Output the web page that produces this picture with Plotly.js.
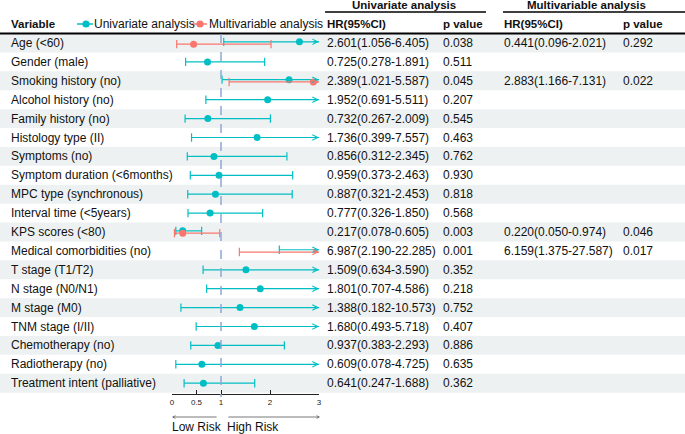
<!DOCTYPE html>
<html>
<head>
<meta charset="utf-8">
<script src="https://cdn.plot.ly/plotly-3.0.1.min.js"></script>
<style>html,body{margin:0;padding:0;background:#fff;}#chart{width:685px;height:434px;}</style>
</head>
<body>
<div id="chart"></div>
<script>
// ---------- data ----------
const variables = ["Age (<60)","Gender (male)","Smoking history (no)","Alcohol history (no)","Family history (no)","Histology type (II)","Symptoms (no)","Symptom duration (<6months)","MPC type (synchronous)","Interval time (<5years)","KPS scores (<80)","Medical comorbidities (no)","T stage (T1/T2)","N stage (N0/N1)","M stage (M0)","TNM stage (I/II)","Chemotherapy (no)","Radiotherapy (no)","Treatment intent (palliative)"];
const uniHR = [2.601,0.725,2.389,1.952,0.732,1.736,0.856,0.959,0.887,0.777,0.217,6.987,1.509,1.801,1.388,1.680,0.937,0.609,0.641];
const uniLo = [1.056,0.278,1.021,0.691,0.267,0.399,0.312,0.373,0.321,0.326,0.078,2.190,0.634,0.707,0.182,0.493,0.383,0.078,0.247];
const uniHi = [6.405,1.891,5.587,5.511,2.009,7.557,2.345,2.463,2.453,1.850,0.605,22.285,3.590,4.586,10.573,5.718,2.293,4.725,1.688];
const uniP  = ["0.038","0.511","0.045","0.207","0.545","0.463","0.762","0.930","0.818","0.568","0.003","0.001","0.352","0.218","0.752","0.407","0.886","0.635","0.362"];
const multiRows = [0, 2, 10, 11];
const multiHR = [0.441, 2.883, 0.220, 6.159];
const multiLo = [0.096, 1.166, 0.050, 1.375];
const multiHi = [2.021, 7.131, 0.974, 27.587];
const multiP  = ["0.292","0.022","0.046","0.017"];
const tickVals = [0, 0.5, 1, 2, 3];
const tickText = ["0", "0.5", "1", "2", "3"];
const xMax = 3;

// ---------- style ----------
const W = 685, H = 434;
const rowH = 18.9, row0 = 43;          // pixel centre of first row
const x0px = 172, x1px = 319;          // pixel extent of 0..3 axis
const teal = "#00BFC4", salmon = "#F8766D";
const FONT = "Liberation Sans, Arial, Helvetica, sans-serif";
const px2row = p => (p - row0) / rowH;
const px2paper = p => p / W;
const off = 0.06;

const uniY = variables.map((v, i) => multiRows.includes(i) ? i - off : i);
const multiY = multiRows.map(i => i + off);

const fmt = (h, l, u) => h.toFixed(3) + "(" + l.toFixed(3) + "-" + u.toFixed(3) + ")";

function seriesTraces(hr, lo, hi, ys, color) {
  const lx = [], ly = [];
  const cx = [], cy = [];
  const px = [], py = [];
  hr.forEach((h, k) => {
    lx.push(lo[k], Math.min(hi[k], xMax), null);
    ly.push(ys[k], ys[k], null);
    cx.push(lo[k]); cy.push(ys[k]);
    if (hi[k] <= xMax) { cx.push(hi[k]); cy.push(ys[k]); }
    if (h <= xMax) { px.push(h); py.push(ys[k]); }
  });
  return [
    {x: lx, y: ly, mode: "lines", line: {color: color, width: 1.2}, hoverinfo: "skip", cliponaxis: false, showlegend: false},
    {x: cx, y: cy, mode: "markers", marker: {symbol: "line-ns", size: 6, line: {color: color, width: 1.2}}, hoverinfo: "skip", cliponaxis: false, showlegend: false},
    {x: px, y: py, mode: "markers", marker: {symbol: "circle", size: 7, color: color}, hoverinfo: "skip", cliponaxis: false, showlegend: false}
  ];
}

const traces = [
  ...seriesTraces(uniHR, uniLo, uniHi, uniY, teal),
  ...seriesTraces(multiHR, multiLo, multiHi, multiY, salmon)
];

const shapes = [];
const annotations = [];

// row shading
variables.forEach((v, i) => {
  if (i % 2 === 0) {
    shapes.push({type: "rect", xref: "paper", yref: "y", x0: 0, x1: 1, y0: i - 0.5, y1: i + 0.5,
      fillcolor: "#EEF1F2", line: {width: 0}, layer: "below"});
  }
});
// header lines
shapes.push({type: "line", xref: "paper", yref: "y", x0: 0, x1: 1, y0: -0.5, y1: -0.5, line: {color: "#000", width: 2}});
shapes.push({type: "line", xref: "paper", yref: "y", x0: px2paper(325), x1: px2paper(486), y0: px2row(12), y1: px2row(12), line: {color: "#000", width: 1.5}});
shapes.push({type: "line", xref: "paper", yref: "y", x0: px2paper(503), x1: 1, y0: px2row(12), y1: px2row(12), line: {color: "#000", width: 1.5}});
// reference line at 1
shapes.push({type: "line", xref: "x", yref: "y", x0: 1, x1: 1, y0: px2row(34), y1: px2row(397),
  line: {color: "#8EA8D6", width: 1.5, dash: "dash"}});

// legend
const legY = px2row(24);
[[77, 93, 86, teal], [192, 207, 200, salmon]].forEach(([a, b, c, col]) => {
  shapes.push({type: "line", xref: "paper", yref: "y", x0: px2paper(a), x1: px2paper(b), y0: legY, y1: legY, line: {color: col, width: 1.5}});
  shapes.push({type: "circle", xref: "paper", yref: "paper", x0: px2paper(c - 3.6), x1: px2paper(c + 3.6),
    y0: 1 - (24 + 3.6) / H, y1: 1 - (24 - 3.6) / H, fillcolor: col, line: {width: 0}});
});
function txt(text, xpx, yrow, opts = {}) {
  annotations.push(Object.assign({
    text: text, xref: "paper", yref: "y", x: px2paper(xpx), y: yrow,
    xanchor: "left", yanchor: "middle", showarrow: false,
    font: {family: FONT, size: 12, color: "#111"}
  }, opts));
}
txt("Univariate analysis", 92, legY);
txt("Multivariable analysis", 207, legY);

// headers
const hdrY = px2row(24);
const bold = {family: FONT, size: 11.5, color: "#111"};
txt("<b>Variable</b>", 9, hdrY, {font: bold});
txt("<b>HR(95%CI)</b>", 325, hdrY, {font: bold});
txt("<b>p value</b>", 441, hdrY, {font: bold});
txt("<b>HR(95%CI)</b>", 502, hdrY, {font: bold});
txt("<b>p value</b>", 621, hdrY, {font: bold});
txt("<b>Univariate analysis</b>", 404, px2row(5), {xanchor: "center", font: bold});
txt("<b>Multivariable analysis</b>", 586, px2row(5), {xanchor: "center", font: bold});

// rows
variables.forEach((v, i) => {
  txt(v, 9, i);
  txt(fmt(uniHR[i], uniLo[i], uniHi[i]), 325, i);
  txt(uniP[i], 441, i);
});
multiRows.forEach((r, k) => {
  txt(fmt(multiHR[k], multiLo[k], multiHi[k]), 502, r);
  txt(multiP[k], 621, r);
});

// arrows for CI beyond axis
function arrowsFor(hi, ys, color) {
  hi.forEach((h, k) => {
    if (h > xMax) {
      annotations.push({x: xMax, y: ys[k], ax: xMax - 0.15, ay: ys[k], xref: "x", yref: "y", axref: "x", ayref: "y",
        showarrow: true, arrowhead: 5, arrowsize: 0.9, arrowwidth: 1.2, arrowcolor: color, standoff: 0, text: ""});
    }
  });
}
arrowsFor(uniHi, uniY, teal);
arrowsFor(multiHi, multiY, salmon);

// risk arrows
const riskY = px2row(417);
annotations.push({x: 0, y: riskY, ax: 0.94, ay: riskY, xref: "x", yref: "y", axref: "x", ayref: "y",
  showarrow: true, arrowhead: 5, arrowsize: 0.7, arrowwidth: 0.8, arrowcolor: "#555", standoff: 0, text: ""});
annotations.push({x: 3.02, y: riskY, ax: 1.12, ay: riskY, xref: "x", yref: "y", axref: "x", ayref: "y",
  showarrow: true, arrowhead: 5, arrowsize: 0.7, arrowwidth: 0.8, arrowcolor: "#555", standoff: 0, text: ""});
txt("Low Risk", 170, px2row(427), {font: {family: FONT, size: 12, color: "#111"}});
txt("High Risk", 225, px2row(427), {font: {family: FONT, size: 12, color: "#111"}});

const layout = {
  width: W, height: H,
  margin: {l: 0, r: 0, t: 0, b: 0},
  paper_bgcolor: "#fff", plot_bgcolor: "rgba(0,0,0,0)",
  showlegend: false,
  xaxis: {
    domain: [x0px / W, x1px / W], range: [0, xMax], anchor: "free", position: 1 - 394 / H,
    showgrid: false, zeroline: false, showline: true, linecolor: "#222", linewidth: 1,
    ticks: "inside", ticklen: 4, tickwidth: 1, tickcolor: "#222",
    tickmode: "array", tickvals: tickVals, ticktext: tickText,
    tickfont: {family: FONT, size: 8, color: "#222"}, automargin: false, fixedrange: true
  },
  yaxis: {
    domain: [0, 1], range: [px2row(H), px2row(0)], visible: false, fixedrange: true, automargin: false
  },
  shapes: shapes,
  annotations: annotations,
  font: {family: FONT}
};

Plotly.newPlot("chart", traces, layout, {staticPlot: true, displayModeBar: false});
</script>
</body>
</html>
